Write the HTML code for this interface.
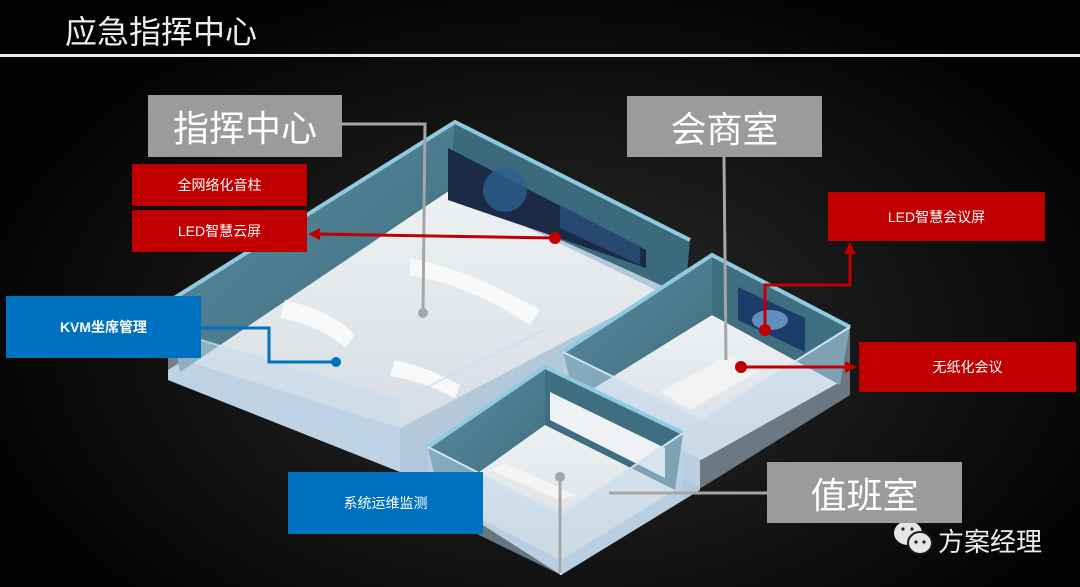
<!DOCTYPE html>
<html><head><meta charset="utf-8"><style>
html,body{margin:0;padding:0;}
body{width:1080px;height:587px;overflow:hidden;background:#000;font-family:"Liberation Sans","Noto Sans CJK SC",sans-serif;position:relative;}
.bg{position:absolute;left:0;top:0;width:1080px;height:587px;background:radial-gradient(ellipse 600px 380px at 560px 340px,#2c2c2e 0%,#151516 55%,#030303 100%);}
.t{position:absolute;color:#fff;white-space:nowrap;}
.box{position:absolute;display:flex;align-items:center;justify-content:center;color:#fff;white-space:nowrap;}
.g{background:#9b9b9b;font-size:36px;}
.r{background:#c00000;font-size:14px;}
.b{background:#0070c0;font-size:14px;}
</style></head><body>
<div class="bg"></div>
<div class="t" style="left:65px;top:7px;font-size:32px;color:#eee;">应急指挥中心</div>
<div style="position:absolute;left:0;top:54px;width:1080px;height:3px;background:#eee;"></div>
<svg style="position:absolute;left:0;top:0" width="1080" height="587">
 <defs>
  <linearGradient id="wl" x1="0" y1="0" x2="1" y2="1"><stop offset="0" stop-color="#5a8da0"/><stop offset="1" stop-color="#3f6c7e"/></linearGradient>
  <linearGradient id="fl" x1="0" y1="0" x2="0" y2="1"><stop offset="0" stop-color="#eef1f2"/><stop offset="1" stop-color="#d6dee4"/></linearGradient>
 </defs>
 <polygon points="168,370 455,190 700,300 700,490 561,575 400,472 168,380" fill="#b3c9da"/>
 <polygon points="190,362 450,190 660,292 400,428" fill="url(#fl)"/>
 <polygon points="168,302 455,122 450,190 180,372" fill="url(#wl)"/>
 <polygon points="455,122 690,240 685,296 450,190" fill="#3b6a7c"/>
 <polyline points="168,302 455,122 690,240" fill="none" stroke="#8fcbe0" stroke-width="4"/>
 <polygon points="448,148 646,250 646,268 448,200" fill="#1b2a45"/>
 <circle cx="505" cy="190" r="22" fill="#2c5f8f" opacity=".8"/>
 <polygon points="560,205 640,246 640,265 560,228" fill="#2b4f7a" opacity=".8"/>
 <path d="M410,258 Q470,270 540,310 L530,325 Q470,285 410,275 Z" fill="#f8f8f8"/>
 <path d="M285,300 Q330,310 355,335 L345,348 Q320,325 280,318 Z" fill="#f8f8f8"/>
 <path d="M395,360 Q430,368 460,385 L455,398 Q425,382 390,376 Z" fill="#f8f8f8"/>
 <polygon points="168,330 400,400 400,472 168,380" fill="#c4dbeb" opacity=".55"/>
 <polyline points="168,330 400,400 545,330" fill="none" stroke="#c9e0ef" stroke-width="2" opacity=".7"/>
 <polygon points="575,398 712,315 840,382 701,460" fill="url(#fl)"/>
 <polygon points="563,352 712,255 712,315 575,400" fill="url(#wl)"/>
 <polygon points="712,255 850,327 840,385 712,315" fill="#3f6e80"/>
 <polyline points="563,352 712,255 850,327" fill="none" stroke="#8fcbe0" stroke-width="4"/>
 <polygon points="738,287 805,318 805,352 738,320" fill="#1c3c6a"/>
 <ellipse cx="770" cy="320" rx="18" ry="10" fill="#7fb2de" opacity=".7"/>
 <polygon points="660,392 730,355 760,370 690,410" fill="#f2f2f2"/>
 <polygon points="563,352 701,420 850,327 850,395 701,488 563,420" fill="#bdd5e8" opacity=".5"/>
 <polyline points="563,352 701,420 850,327" fill="none" stroke="#cfe3f0" stroke-width="2"/>
 <polygon points="440,498 545,425 675,490 561,560" fill="url(#fl)"/>
 <polygon points="428,447 545,367 545,425 440,500" fill="url(#wl)"/>
 <polygon points="545,367 683,433 675,490 545,425" fill="#3f6e80"/>
 <polyline points="428,447 545,367 683,433" fill="none" stroke="#8fcbe0" stroke-width="4"/>
 <polygon points="550,392 665,448 665,478 550,420" fill="#eef2f4"/>
 <polygon points="490,470 560,500 575,495 505,463" fill="#f4f4f4"/>
 <polygon points="428,447 561,515 683,433 683,500 561,575 428,510" fill="#bdd5e8" opacity=".5"/>
 <polyline points="428,447 561,515 683,433" fill="none" stroke="#cfe3f0" stroke-width="2"/>
 <line x1="561" y1="515" x2="561" y2="575" stroke="#cfe3f0" stroke-width="2"/>
 <polyline points="342,124 425,124 423,313" fill="none" stroke="#a6a6a6" stroke-width="3"/>
 <circle cx="423" cy="313" r="5" fill="#a6a6a6"/>
 <polyline points="724,157 726,360" fill="none" stroke="#a6a6a6" stroke-width="3"/>
 <polyline points="767,493 609,493" fill="none" stroke="#a6a6a6" stroke-width="3"/>
 <line x1="560" y1="477" x2="560" y2="573" stroke="#a6a6a6" stroke-width="3"/>
 <circle cx="560" cy="477" r="5" fill="#a6a6a6"/>
 <polyline points="556,238 316,234" fill="none" stroke="#c00000" stroke-width="3"/>
 <polygon points="308,234 320,228 320,240" fill="#c00000"/>
 <circle cx="555" cy="238" r="6" fill="#c00000"/>
 <polyline points="765,330 765,285 850,285 850,250" fill="none" stroke="#c00000" stroke-width="3"/>
 <polygon points="850,242 844,254 856,254" fill="#c00000"/>
 <circle cx="765" cy="330" r="6" fill="#c00000"/>
 <polyline points="741,367 848,367" fill="none" stroke="#c00000" stroke-width="3"/>
 <polygon points="857,367 845,361 845,373" fill="#c00000"/>
 <circle cx="741" cy="367" r="6" fill="#c00000"/>
 <polyline points="200,328 269,328 269,362 336,362" fill="none" stroke="#0070c0" stroke-width="3"/>
 <circle cx="336" cy="362" r="5" fill="#0070c0"/>
 <ellipse cx="908" cy="533" rx="14" ry="12" fill="#e6e6e6"/>
 <ellipse cx="920" cy="543" rx="12" ry="11" fill="#e6e6e6" stroke="#1a1a1a" stroke-width="2"/>
 <circle cx="903" cy="529" r="1.6" fill="#222"/><circle cx="912" cy="529" r="1.6" fill="#222"/>
 <circle cx="916" cy="542" r="1.6" fill="#222"/><circle cx="924" cy="542" r="1.6" fill="#222"/>
</svg>
<div class="box g" style="left:148px;top:95px;width:194px;height:62px;">指挥中心</div>
<div class="box g" style="left:627px;top:96px;width:195px;height:61px;">会商室</div>
<div class="box g" style="left:767px;top:462px;width:195px;height:61px;">值班室</div>
<div class="box r" style="left:132px;top:164px;width:175px;height:42px;">全网络化音柱</div>
<div class="box r" style="left:132px;top:210px;width:175px;height:42px;">LED智慧云屏</div>
<div class="box r" style="left:828px;top:192px;width:217px;height:49px;">LED智慧会议屏</div>
<div class="box r" style="left:859px;top:342px;width:217px;height:50px;">无纸化会议</div>
<div class="box b" style="left:6px;top:296px;width:195px;height:62px;font-weight:bold;">KVM坐席管理</div>
<div class="box b" style="left:288px;top:472px;width:195px;height:62px;">系统运维监测</div>
<div class="t" style="left:938px;top:522px;font-size:26px;color:#eee;">方案经理</div>
</body></html>
